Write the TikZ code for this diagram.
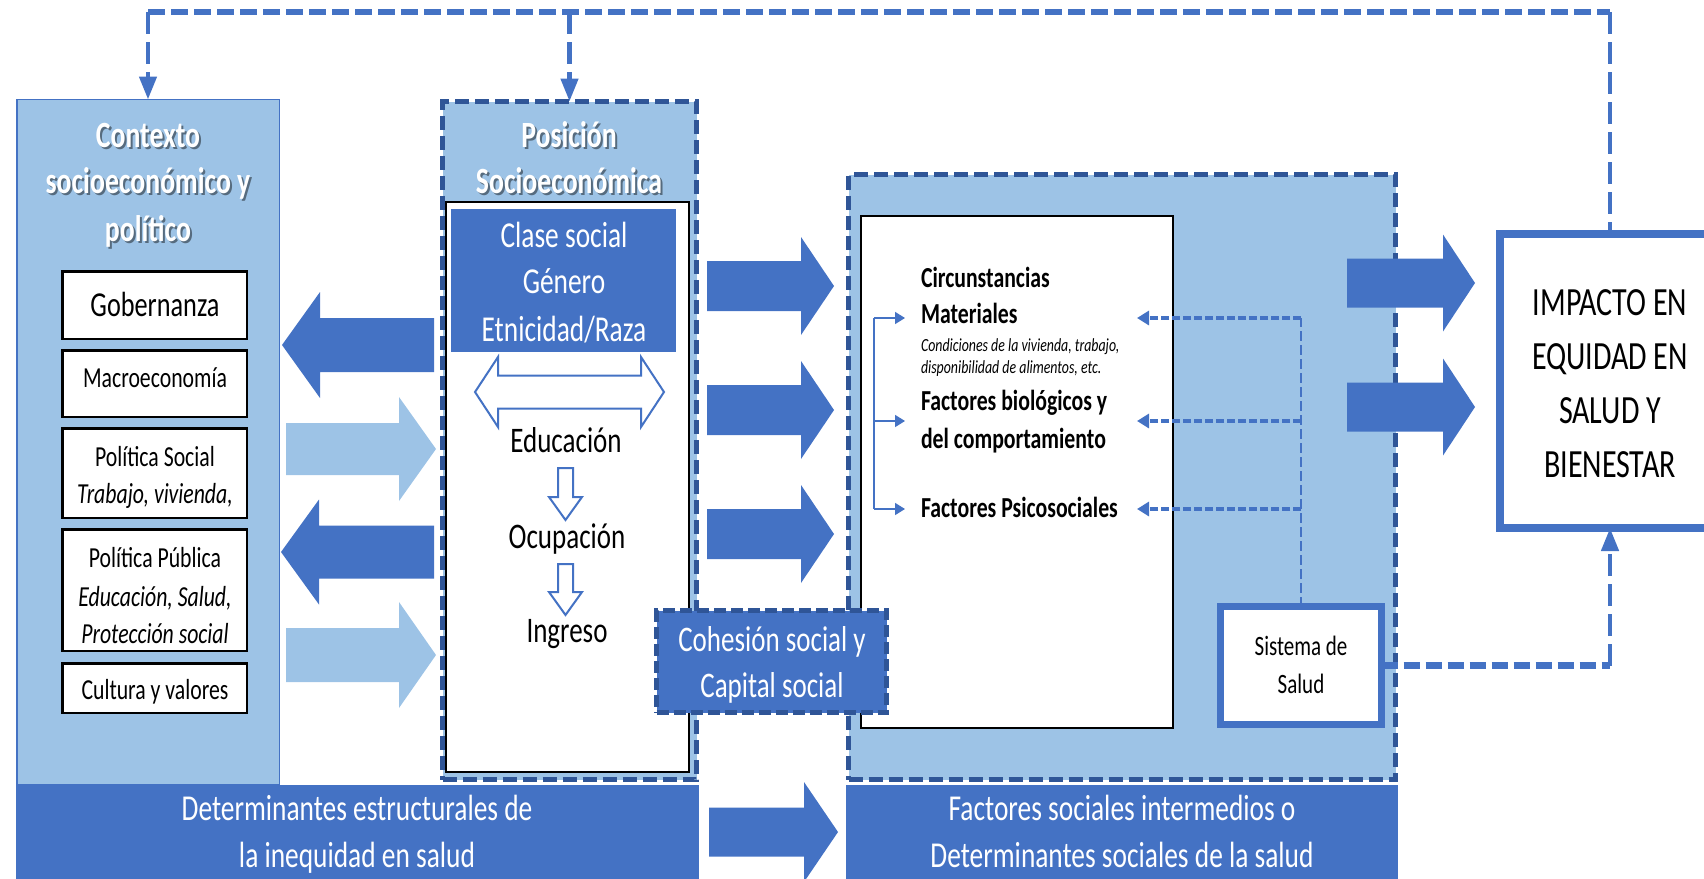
\documentclass[tikz,border=0pt]{standalone}
\usepackage{fontspec}
\setmainfont{Carlito}[FakeStretch=0.75]
\usetikzlibrary{arrows.meta}
\definecolor{dblue}{HTML}{4472C4}
\definecolor{lblue}{HTML}{9DC3E6}
\definecolor{nblue}{HTML}{2F5597}
\newcommand\fsz[1]{\fontsize{#1}{#1}\selectfont}
% color, x-start, x-headbase, x-tip, y-center, shaft half, head half
\newcommand\blockarrow[7]{\fill[#1] (#2,#5-#6) -- (#3,#5-#6) -- (#3,#5-#7) -- (#4,#5) -- (#3,#5+#7) -- (#3,#5+#6) -- (#2,#5+#6) -- cycle;}
\tikzset{
  every node/.style={inner sep=0pt, outer sep=0pt},
  dashbox/.style={draw=nblue, line width=5pt, dash pattern=on 14pt off 6pt},
  smallbox/.style={draw=black, fill=white, line width=2.5pt, minimum width=184.5pt},
  tl/.style={anchor=base, font=\fsz{#1}},
  tlb/.style={anchor=base west, font=\fsz{#1}\bfseries},
  ttl/.style={anchor=base, font=\fsz{37}\bfseries, text=white},
  tsh/.style={anchor=base, font=\fsz{37}\bfseries, text=black, opacity=0.45},
  fbh/.style={draw=dblue, line width=5.5pt, dash pattern=on 17pt off 6pt},
  fbv/.style={draw=dblue, line width=4.5pt, dash pattern=on 22pt off 8pt},
  bigtip/.style={-{Triangle[length=23pt,width=17pt]}},
  doth/.style={draw=dblue, line width=4pt, dash pattern=on 8pt off 3pt, -{Triangle[length=12pt,width=14pt]}},
  dotv/.style={draw=dblue, line width=2.5pt, dash pattern=on 10pt off 4pt},
  brk/.style={draw=dblue, line width=1.5pt},
  hollow/.style={draw=dblue, fill=white, line width=2pt, line join=miter},
}
\begin{document}
\begin{tikzpicture}[x=1pt,y=-1pt]
\useasboundingbox (0,0) rectangle (1704,878);

% ---------- Contexto ----------
\node[draw=dblue, fill=lblue, line width=1.5pt, minimum width=262.5pt, minimum height=685pt] (ctx) at (148,442) {};
\node[tsh] (cs1) at (150,149) {Contexto};
\node[tsh] (cs2) at (150,195) {socioeconómico y};
\node[tsh] (cs3) at (150,243) {político};
\node[ttl] (ct1) at (148,147) {Contexto};
\node[ttl] (ct2) at (148,193) {socioeconómico y};
\node[ttl] (ct3) at (148,241) {político};

\node[smallbox, minimum height=67.5pt] (gob) at (154.5,305) {};
\node[smallbox, minimum height=66.5pt] (mac) at (154.5,383.5) {};
\node[smallbox, minimum height=89.5pt] (psoc) at (154.5,473) {};
\node[smallbox, minimum height=121.5pt] (ppub) at (154.5,590) {};
\node[smallbox, minimum height=49.5pt] (cult) at (154.5,688) {};
\node[tl=35] (gobt) at (155,316) {Gobernanza};
\node[tl=29] (mact) at (155,387) {Macroeconomía};
\node[tl=29] (psoct1) at (155,466) {Política Social};
\node[tl=29, font=\fsz{29}\itshape] (psoct2) at (155,503) {Trabajo, vivienda,};
\node[tl=29] (ppubt1) at (155,567) {Política Pública};
\node[tl=29, font=\fsz{29}\itshape] (ppubt2) at (155,606) {Educación, Salud,};
\node[tl=29, font=\fsz{29}\itshape] (ppubt3) at (155,643) {Protección social};
\node[tl=29] (cultt) at (155,699) {Cultura y valores};

% ---------- arrows Contexto <-> Posicion ----------
\blockarrow{dblue}{434}{320}{282}{345}{27}{53}
\blockarrow{lblue}{286}{399}{436}{449}{26}{52}
\blockarrow{dblue}{434}{319}{281}{552}{26.5}{52.5}
\blockarrow{lblue}{286}{399}{436}{655}{27}{53}

% ---------- Posicion ----------
\node[dashbox, fill=lblue, minimum width=254pt, minimum height=678pt] (pos) at (569.5,440.5) {};
\node[tsh] (ps1) at (571,149) {Posición};
\node[tsh] (ps2) at (571,195) {Socioeconómica};
\node[ttl] (pt1) at (569,147) {Posición};
\node[ttl] (pt2) at (569,193) {Socioeconómica};
\node[draw=black, fill=white, line width=2pt, minimum width=243pt, minimum height=570pt] (posin) at (567.5,487) {};
\node[fill=dblue, minimum width=225pt, minimum height=143pt] (clase) at (563.5,280.5) {};
\node[tl=36.5, text=white] (cl1) at (564,247) {Clase social};
\node[tl=36.5, text=white] (cl2) at (564,293) {Género};
\node[tl=36.5, text=white] (cl3) at (564,341) {Etnicidad/Raza};
\draw[hollow] (475,392) -- (498,357) -- (498,375.5) -- (641,375.5) -- (641,357) -- (664,392)
  -- (641,427) -- (641,408.5) -- (498,408.5) -- (498,427) -- cycle;
\node[tl=36] (edu) at (566,452) {Educación};
\draw[hollow] (558,468) -- (573,468) -- (573,497) -- (582,497) -- (565.5,520) -- (549,497) -- (558,497) -- cycle;
\node[tl=36] (ocu) at (567,548) {Ocupación};
\draw[hollow] (558,564) -- (573,564) -- (573,592) -- (582,592) -- (565.5,615) -- (549,592) -- (558,592) -- cycle;
\node[tl=36] (ing) at (567,642) {Ingreso};

% ---------- arrows Posicion -> intermedios ----------
\blockarrow{dblue}{707}{801}{834}{286}{25}{49}
\blockarrow{dblue}{707}{801}{834}{410}{25}{49}
\blockarrow{dblue}{707}{801}{834}{534}{25}{49}

% ---------- Intermedios ----------
\node[dashbox, fill=lblue, minimum width=547pt, minimum height=605pt] (inter) at (1122,477) {};
\node[draw=black, fill=white, line width=2pt, minimum width=312pt, minimum height=512pt] (interin) at (1017,472) {};
\node[tlb=29] (ci1) at (921,287) {Circunstancias};
\node[tlb=29] (ci2) at (921,323) {Materiales};
\node[anchor=base west, font=\fsz{18.5}\itshape] (ci3) at (921,351) {Condiciones de la vivienda, trabajo,};
\node[anchor=base west, font=\fsz{18.5}\itshape] (ci4) at (921,373) {disponibilidad de alimentos, etc.};
\node[tlb=29] (fb1) at (921,410) {Factores biológicos y};
\node[tlb=29] (fb2) at (921,448) {del comportamiento};
\node[tlb=29] (fps) at (921,517) {Factores Psicosociales};

\coordinate (bx) at (874,0);
\coordinate (bm) at (905,318);
\coordinate (bb) at (905,421);
\coordinate (bp) at (905,509);
\draw[brk] (bm -| bx) -- (bp -| bx);
\draw[brk, -{Triangle[length=10pt,width=12pt]}] (bm -| bx) -- (bm);
\draw[brk, -{Triangle[length=10pt,width=12pt]}] (bb -| bx) -- (bb);
\draw[brk, -{Triangle[length=10pt,width=12pt]}] (bp -| bx) -- (bp);

\node[draw=dblue, fill=white, line width=7pt, minimum width=161pt, minimum height=118pt] (sistema) at (1301,665.5) {};
\node[tl=28] (si1) at (1301,655) {Sistema de};
\node[tl=28] (si2) at (1301,693) {Salud};

\coordinate (fm) at (1137,318);
\coordinate (fbio) at (1137,421);
\coordinate (fpsi) at (1137,509);
\draw[dotv] (sistema.north) -- (sistema.north |- fm);
\draw[doth] (sistema.north |- fm) -- (fm);
\draw[doth] (sistema.north |- fbio) -- (fbio);
\draw[doth] (sistema.north |- fpsi) -- (fpsi);

% ---------- Cohesion ----------
\node[draw=nblue, fill=dblue, line width=5pt, dash pattern=on 12pt off 5pt, minimum width=230pt, minimum height=102pt] (coh) at (771.5,661.5) {};
\node[tl=36, text=white] (coh1) at (772,651) {Cohesión social y};
\node[tl=36, text=white] (coh2) at (772,697) {Capital social};

% ---------- arrows to Impacto ----------
\blockarrow{dblue}{1347}{1443}{1475}{283}{24.5}{48.5}
\blockarrow{dblue}{1347}{1443}{1475}{407}{24.5}{48.5}

% ---------- Impacto ----------
\node[draw=dblue, fill=white, line width=8pt, minimum width=220pt, minimum height=294pt] (impacto) at (1610,381) {};
\node[tl=40] (im1) at (1610,315) {IMPACTO EN};
\node[tl=40] (im2) at (1610,369) {EQUIDAD EN};
\node[tl=40] (im3) at (1610,423) {SALUD Y};
\node[tl=40] (im4) at (1610,477) {BIENESTAR};

% ---------- bottom bars ----------
\node[fill=dblue, minimum width=683pt, minimum height=95pt] (dete) at (357.5,832.5) {};
\node[tl=36.5, text=white] (de1) at (357,820) {Determinantes estructurales de};
\node[tl=36.5, text=white] (de2) at (357,867) {la inequidad en salud};
\blockarrow{dblue}{709}{804}{838}{832}{24.5}{50}
\node[fill=dblue, minimum width=552pt, minimum height=95pt] (deti) at (1122,832.5) {};
\node[tl=36.5, text=white] (di1) at (1122,820) {Factores sociales intermedios o};
\node[tl=36.5, text=white] (di2) at (1122,867) {Determinantes sociales de la salud};

% ---------- feedback lines ----------
\coordinate (top) at (0,12);
\draw[fbh] (top -| ctx.north) -- (top -| impacto.north);
\draw[fbv, bigtip] (top -| ctx.north) -- (ctx.north);
\draw[fbv, bigtip] (top -| pos.north) -- (pos.north);
\draw[fbv] (top -| impacto.north) -- (impacto.north);
\draw[fbh, line width=7pt, dash pattern=on 16pt off 6pt] (sistema.east) -- (sistema.east -| impacto.south);
\draw[fbv, bigtip] (sistema.east -| impacto.south) -- (impacto.south);
\end{tikzpicture}
\end{document}
